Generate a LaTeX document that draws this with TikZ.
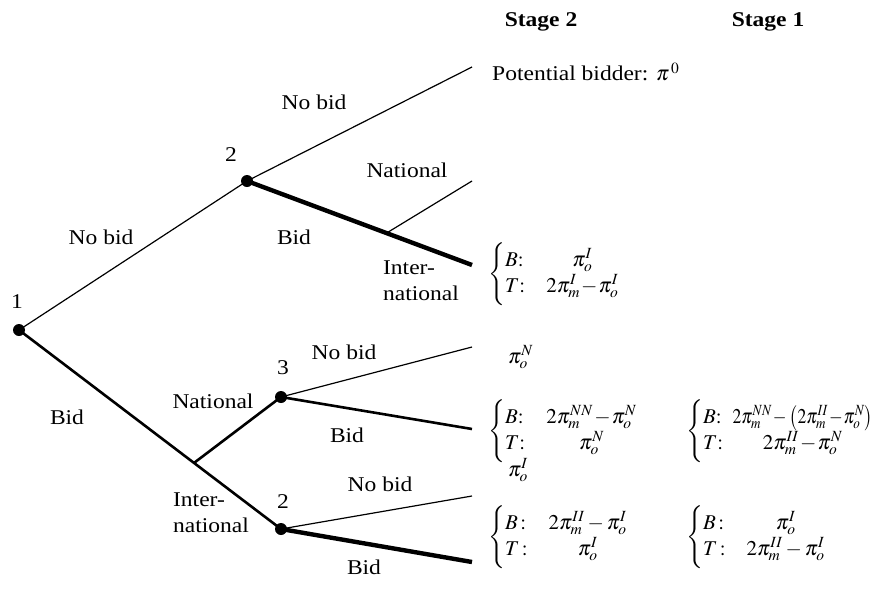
\documentclass[tikz,border=0pt]{standalone}
\usepackage{graphicx}
\usepackage{mathptmx}
\usepackage[no-math]{fontspec}
\setmainfont{Liberation Serif}[FakeStretch=1.12]
\usetikzlibrary{calc}
\newcommand{\tm}{\mskip1mu{-}\mskip1mu}
\newcommand{\payblock}[4]{\left\{\begin{array}{@{}l@{#3}c@{}}\rule{0pt}{23pt}B#4 & #1\\ T#4 & #2\rule[-12pt]{0pt}{12pt}\end{array}\right.}
\begin{document}
\begin{tikzpicture}[x=1pt,y=-1pt,
  every node/.style={font=\fontsize{21}{26}\selectfont},
  dot/.style={circle,fill=black,inner sep=0pt,minimum size=12pt},
  lbl/.style={inner sep=0pt},
  thinline/.style={line width=1.2pt},
  midline/.style={line width=2.6pt},
  thickline/.style={line width=4.4pt},
  payoff/.style={anchor=west,inner sep=0pt}]
\useasboundingbox (0,0) rectangle (880,608);
% decision nodes
\node[dot] (n1) at (19,330) {};
\node[dot] (n2a) at (247,181) {};
\node[dot] (n3) at (281,397) {};
\node[dot] (n2b) at (281,529) {};
% end points
\coordinate (e2anb) at (472,67);
\coordinate (e2ab) at (472,265);
\coordinate (enat) at (472,181);
\coordinate (b1) at ($(n2a.center)!0.62!(e2ab)$);
\coordinate (b2) at ($(n1.center)!0.668!(n2b.center)$);
\coordinate (e3nb) at (472,347);
\coordinate (e3b) at (472,429);
\coordinate (e2bnb) at (472,496);
\coordinate (e2bb) at (472,562);
% branches
\draw[thinline] (n1.center) -- (n2a.center);
\draw[thinline] (n2a.center) -- (e2anb);
\draw[thickline] (n2a.center) -- (e2ab);
\draw[thinline] (b1) -- (enat);
\draw[midline] (n1.center) -- (n2b.center);
\draw[midline] (b2) -- (n3.center);
\draw[thinline] (n3.center) -- (e3nb);
\draw[midline] (n3.center) -- (e3b);
\draw[thinline] (n2b.center) -- (e2bnb);
\draw[thickline] (n2b.center) -- (e2bb);
% node labels
\node[lbl] (l1) at (17,302) {1};
\node[lbl] (l2a) at (231,155) {2};
\node[lbl] (l3) at (283,368) {3};
\node[lbl] (l2b) at (283,502) {2};
% branch labels
\node[lbl] (t1) at (101,237) {No bid};
\node[lbl] (t2) at (314,102) {No bid};
\node[lbl] (t3) at (294,237) {Bid};
\node[lbl] (t4) at (407,170) {National};
\node[lbl,align=left] (t5) at (421,281) {Inter-\\national};
\node[lbl] (t6) at (67,417) {Bid};
\node[lbl] (t7) at (213,401) {National};
\node[lbl,align=left] (t8) at (211,513) {Inter-\\national};
\node[lbl] (t9) at (344,352) {No bid};
\node[lbl] (t10) at (347,435) {Bid};
\node[lbl] (t11) at (380,484) {No bid};
\node[lbl] (t12) at (364,567) {Bid};
% stage headings
\node[lbl] (s2) at (541,22) {\textbf{Stage 2}};
\node[lbl] (s1) at (768,22) {\textbf{Stage 1}};
% payoffs
\node[payoff] (p1) at (492,72) {Potential bidder: $\pi^{\,0}$};
\node[payoff] (p2) at (488,274) {$\payblock{\pi^I_o}{2\pi^I_m\tm\pi^I_o}{\quad}{{:}}$};
\node[payoff] (p3) at (508,357) {$\pi^N_o$};
\node[payoff] (p4) at (488,431) {$\payblock{2\pi^{NN}_m\tm\pi^N_o}{\pi^N_o}{\quad}{{:}}$};
\node[payoff] (p5) at (686,431) {$\payblock{\scalebox{0.84}[1]{$2\pi^{NN}_m\tm\left(2\pi^{II}_m\tm\pi^N_o\right)$}}{2\pi^{II}_m\tm\pi^N_o}{\;\;}{{:}}$};
\node[payoff] (p6) at (508,470) {$\pi^I_o$};
\node[payoff] (p7) at (488,537) {$\payblock{2\pi^{II}_m - \pi^I_o}{\pi^I_o}{\quad}{\,{:}}$};
\node[payoff] (p8) at (686,537) {$\payblock{\pi^I_o}{2\pi^{II}_m - \pi^I_o}{\quad}{\,{:}}$};
\end{tikzpicture}
\end{document}
